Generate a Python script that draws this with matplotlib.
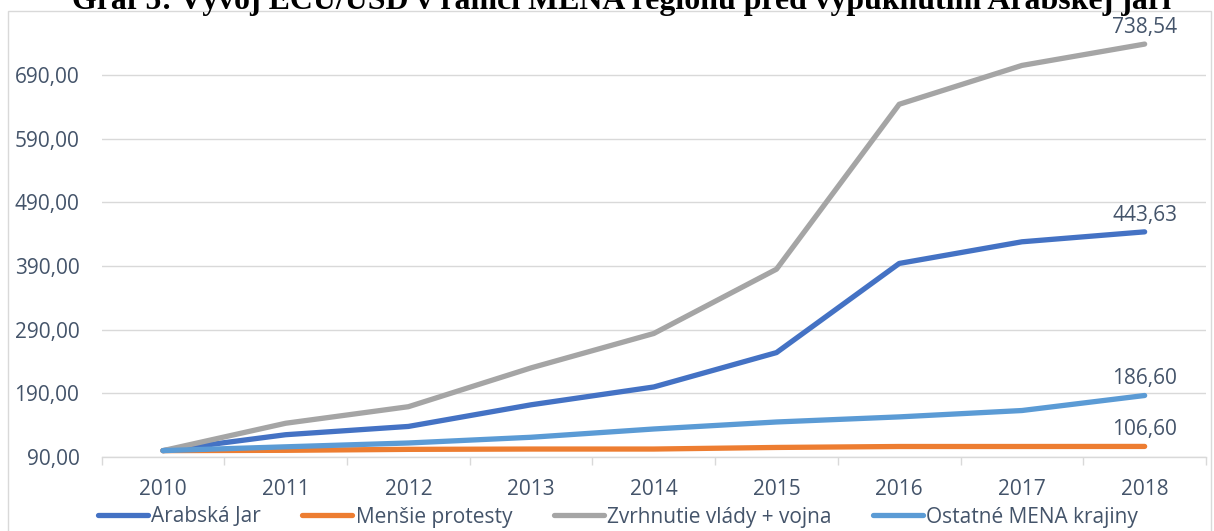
import matplotlib
matplotlib.use("Agg")
import matplotlib.pyplot as plt
from matplotlib.patches import Rectangle
from matplotlib.ticker import FixedLocator, FuncFormatter

years = [2010, 2011, 2012, 2013, 2014, 2015, 2016, 2017, 2018]
arabska_jar = [100, 125, 138, 172, 200, 254, 394, 428, 443.63]
mensie_protesty = [100, 100.5, 102, 102.5, 102.5, 105, 106.5, 106.5, 106.60]
zvrhnutie = [100, 143, 169, 230, 284, 385, 644, 705, 738.54]
ostatne = [100, 106, 112, 121, 134, 145, 153, 163, 186.60]
series_names = ["Arabská Jar", "Menšie protesty", "Zvrhnutie vlády + vojna", "Ostatné MENA krajiny"]
y_ticks = [90, 190, 290, 390, 490, 590, 690]
title = "Graf 5: Vývoj ECU/USD v rámci MENA regiónu pred vypuknutím Arabskej jari"

colors = ["#4472C4", "#ED7D31", "#A5A5A5", "#5B9BD5"]
text_color = "#44546A"
grid_color = "#D9D9D9"
FONT = ["Open Sans", "DejaVu Sans"]
FS = 15

W, H = 1214, 531
fig = plt.figure(figsize=(W / 100, H / 100), dpi=100)
left, right, bottom_px, top_px = 101.6, 1206, 457, 12.5
ax = fig.add_axes([left / W, 1 - bottom_px / H, (right - left) / W, (bottom_px - top_px) / H])

x = list(range(len(years)))
all_series = [arabska_jar, mensie_protesty, zvrhnutie, ostatne]
lines = []
for vals, name, c in zip(all_series, series_names, colors):
    ln, = ax.plot(x, vals, color=c, lw=3.8, solid_capstyle="round",
                  solid_joinstyle="round", label=name, zorder=3)
    lines.append(ln)
    ax.annotate(f"{vals[-1]:.2f}".replace(".", ","), (x[-1], vals[-1]),
                xytext=(0, 12), textcoords="offset points", ha="center",
                va="center", fontsize=FS, color=text_color, family=FONT, zorder=4)

ax.set_xlim(-0.5, len(years) - 0.5)
ax.set_ylim(90, 90 + (bottom_px - top_px) / 0.6367)

ax.set_xticks(x)
ax.set_xticklabels([str(y) for y in years])
ax.xaxis.set_minor_locator(FixedLocator([i - 0.5 for i in range(len(years) + 1)]))
ax.tick_params(axis="x", which="major", length=0, pad=16, labelsize=FS, labelcolor=text_color)
ax.tick_params(axis="x", which="minor", length=6, width=1, color=grid_color)

ax.yaxis.set_major_locator(FixedLocator(y_ticks))
ax.yaxis.set_major_formatter(FuncFormatter(lambda v, p: f"{v:.2f}".replace(".", ",")))
ax.tick_params(axis="y", length=0, pad=16, labelsize=FS, labelcolor=text_color)
for lab in ax.get_xticklabels() + ax.get_yticklabels():
    lab.set_family(FONT)

ax.grid(axis="y", color=grid_color, lw=1, zorder=0)
for s in ["top", "right", "left"]:
    ax.spines[s].set_visible(False)
ax.spines["bottom"].set_color(grid_color)
ax.spines["bottom"].set_linewidth(1)

# chart border
fig.patches.append(Rectangle((8 / W, -0.05), (1211 - 8) / W, 1.05 - 11 / H,
                             transform=fig.transFigure, fill=False,
                             edgecolor=grid_color, lw=1, zorder=0))

leg = fig.legend(lines, series_names, loc="center", bbox_to_anchor=(618 / W, 1 - 517 / H),
                 ncol=4, frameon=False, handlelength=2.4, handletextpad=0.15,
                 columnspacing=2.0, prop={"family": FONT, "size": FS})
for t in leg.get_texts():
    t.set_color(text_color)
for lh in leg.get_lines():
    lh.set_linewidth(3.8)

t = fig.text(621 / W, 1 - 9 / H, title, ha="center", va="baseline",
             fontsize=20, fontweight="bold", family=["Liberation Serif", "DejaVu Serif"],
             color="black")
fig.canvas.draw()
bb = t.get_window_extent()
t.set_fontsize(20 * 1098 / bb.width)

fig.savefig("out.png", dpi=100)
